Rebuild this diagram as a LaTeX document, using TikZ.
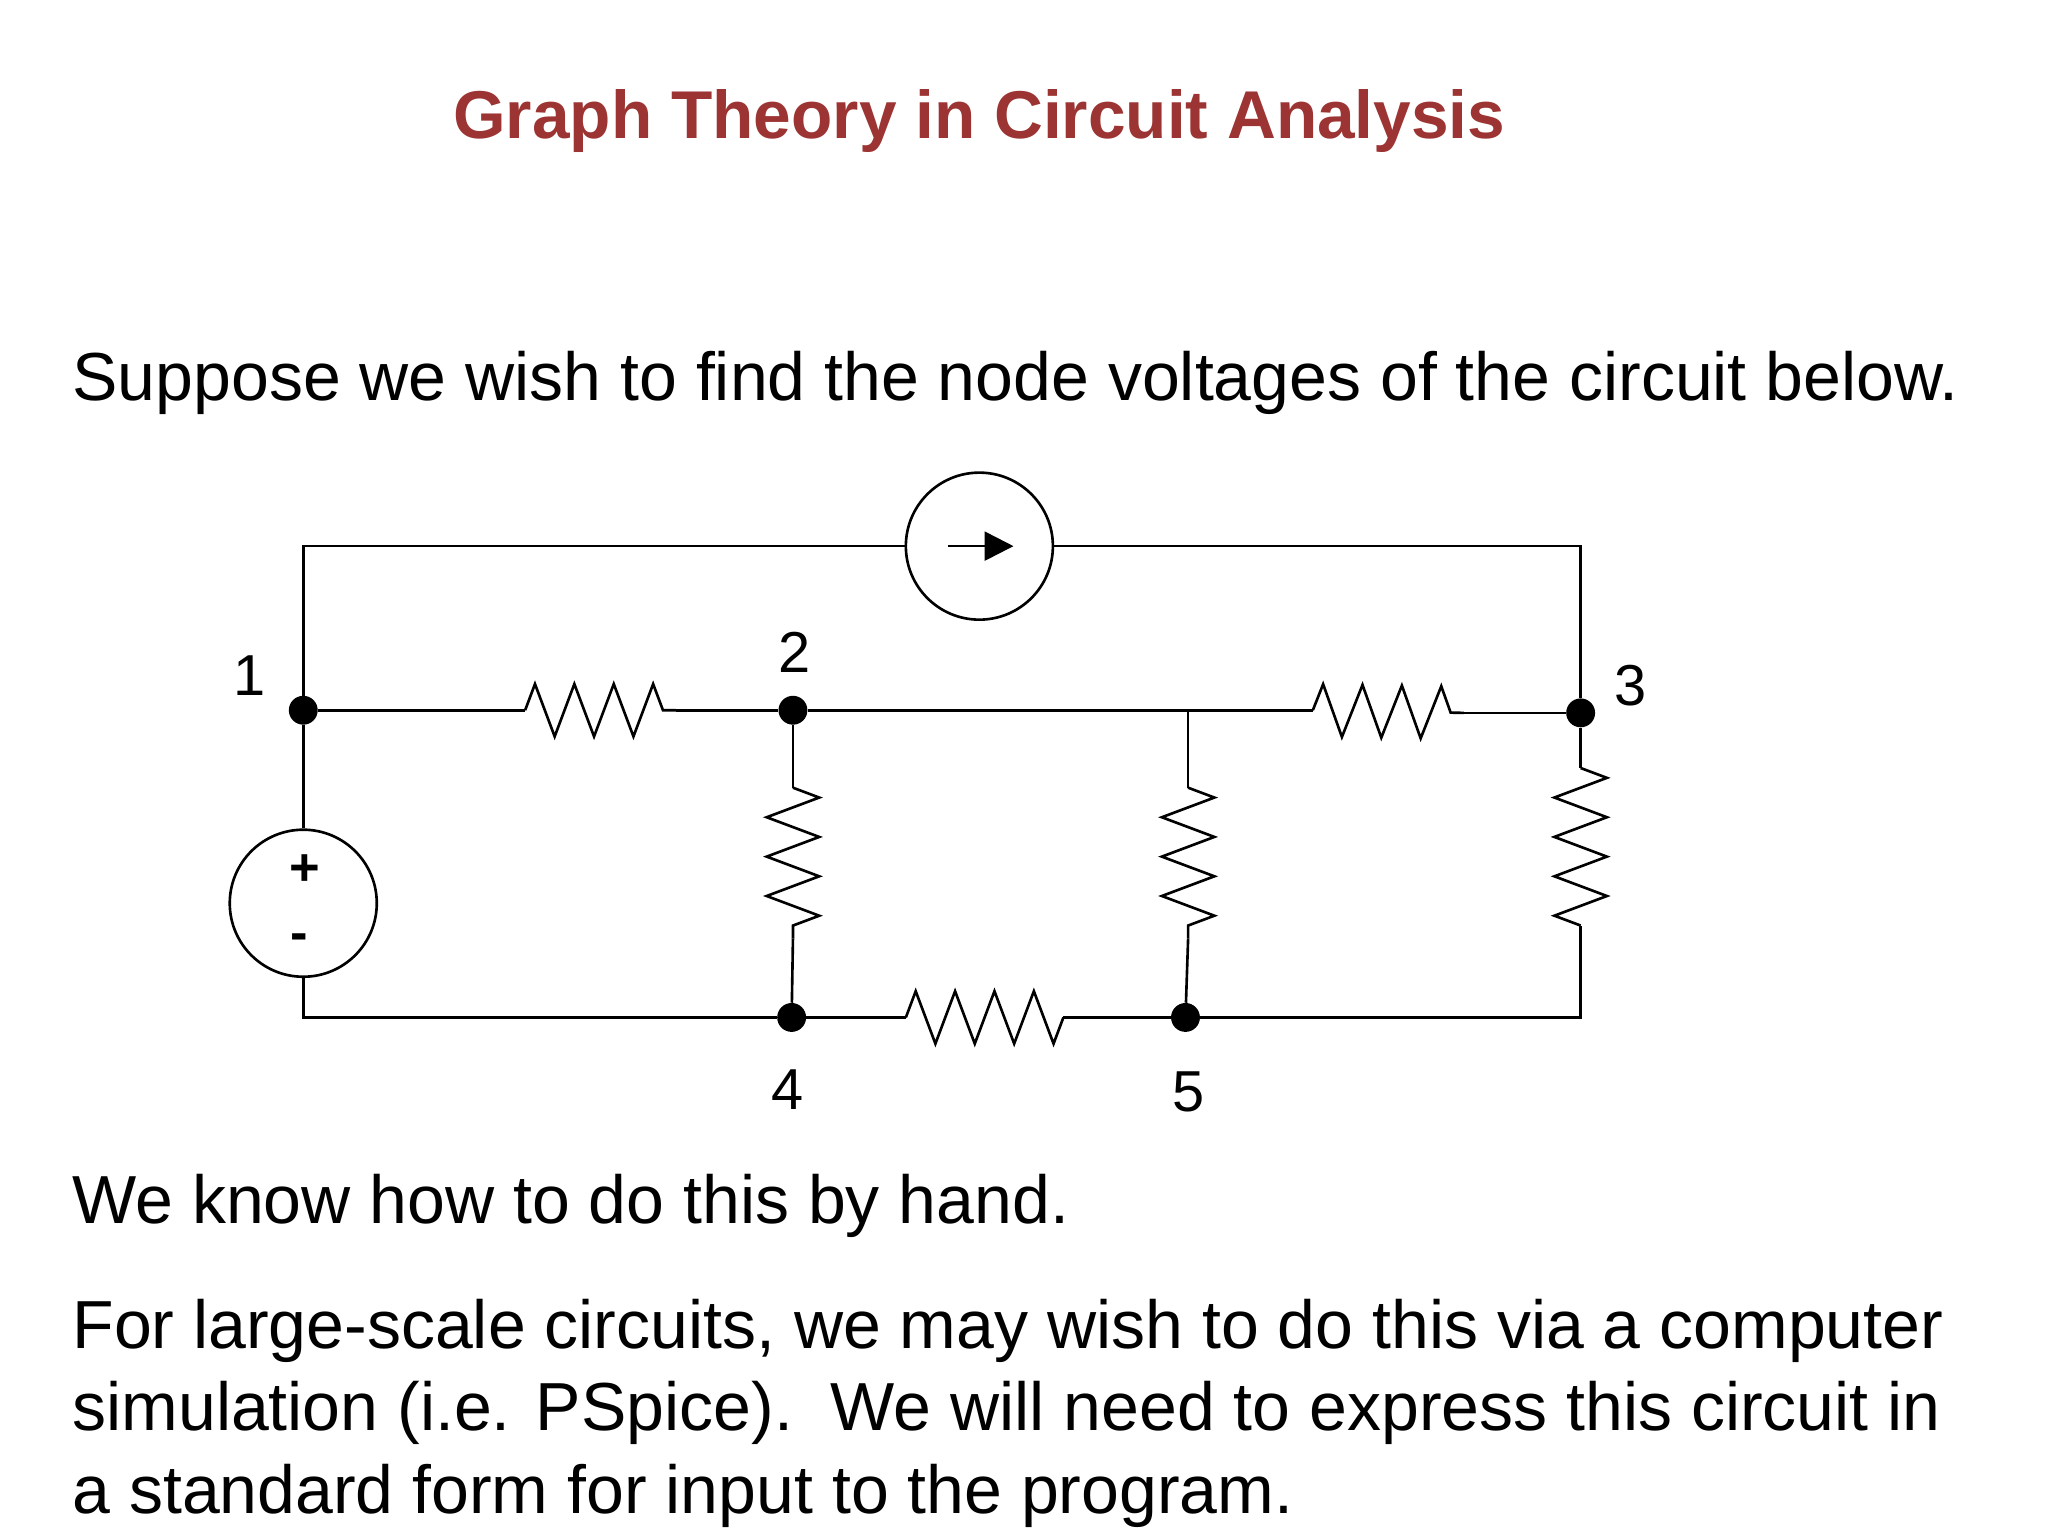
\documentclass[tikz,border=0pt]{standalone}
\usepackage{fontspec}
\setmainfont{Liberation Sans}
\usetikzlibrary{decorations.pathmorphing,arrows.meta}
\definecolor{ttl}{RGB}{155,52,50}
\begin{document}
\begin{tikzpicture}[x=1pt,y=-1pt,
  w/.style={line width=2pt},
  res/.style={w,decorate,decoration={zigzag,segment length=30,amplitude=20}},
  dot/.style={circle,fill=black,inner sep=0pt,minimum size=22},
  lbl/.style={font=\fontsize{44}{50}\selectfont},
  txt/.style={anchor=base west,inner sep=0,font=\fontsize{51.8}{60}\selectfont}]
\useasboundingbox (0,0) rectangle (1560,1170);
\node[font=\fontsize{51.5}{58}\selectfont\bfseries,text=ttl] (title) at (746,92) {Graph Theory in Circuit Analysis};
\node[txt] (t1) at (55,305) {Suppose we wish to find the node voltages of the circuit below.};
\node[txt] (t2) at (55,932) {We know how to do this by hand.};
\node[txt] (t3) at (55,1027) {For large-scale circuits, we may wish to do this via a computer};
\node[txt] (t4) at (55,1090) {simulation (i.e. PSpice).\ \ We will need to express this circuit in};
\node[txt] (t5) at (55,1153) {a standard form for input to the program.};
% nodes
\node[dot] (n1) at (231,541) {};
\node[dot] (n2) at (604,541) {};
\node[dot] (n3) at (1204,543) {};
\node[dot] (n4) at (603,775) {};
\node[dot] (n5) at (903,775) {};
\node[lbl] (l1) at (190,515) {1};
\node[lbl] (l2) at (605,497) {2};
\node[lbl] (l3) at (1242,522) {3};
\node[lbl] (l4) at (600,830) {4};
\node[lbl] (l5) at (905,832) {5};
% sources
\node[circle,draw,w,minimum size=112] (cs) at (746,416) {};
\node[circle,draw,w,minimum size=112] (vs) at (231,688) {};
\draw[w,-{Triangle[length=22,width=22]}] ([xshift=-24]cs.center) -- ([xshift=26]cs.center);
\node[font=\fontsize{40}{44}\selectfont\bfseries] (plus) at (232,663) {+};
\node[font=\fontsize{40}{44}\selectfont\bfseries] (minus) at (228,718) {-};
\coordinate (tl) at (231,416);
\coordinate (tr) at (1204,416);
\coordinate (bl) at (231,775);
\coordinate (j) at (905,541);
\coordinate (br) at (1204,775);
% wires
\draw[w] (cs.west) -- (tl) -- (n1) -- (vs.north);
\draw[w] (vs.south) -- (bl) -- (n4);
\draw[w] (cs.east) -- (tr) -- (n3);
\draw[w] (n1) -- (400,541); \draw[res] (400,541) -- (515,541); \draw[w] (515,541) -- (n2);
\draw[w] (n2) -- (j) -- (1000,541); \draw[res] (1000,541) -- (1115,543); \draw[w] (1115,543) -- (n3);
\draw[w] (n2) -- (604,600); \draw[res] (604,600) -- (604,715); \draw[w] (604,715) -- (n4);
\draw[w] (n4) -- (690,775); \draw[res] (690,775) -- (810,775); \draw[w] (810,775) -- (n5);
\draw[w] (j) -- (905,600); \draw[res] (905,600) -- (905,715); \draw[w] (905,715) -- (n5);
\draw[w] (n5) -- (br) -- (1204,705); \draw[res] (1204,705) -- (1204,585); \draw[w] (1204,585) -- (n3);
\end{tikzpicture}
\end{document}
